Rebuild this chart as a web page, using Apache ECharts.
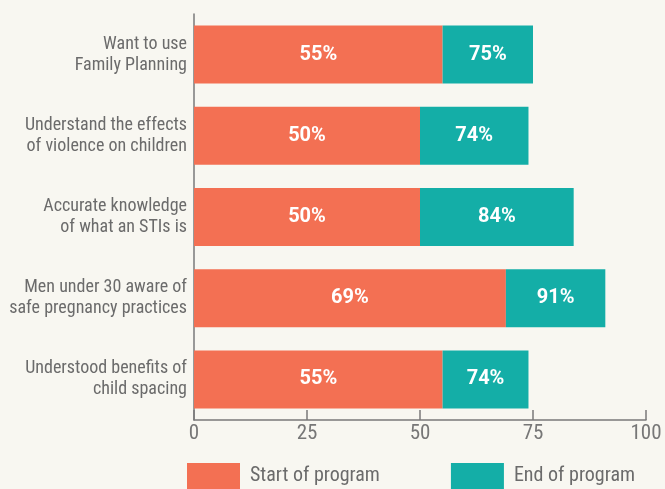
<!DOCTYPE html>
<html>
<head>
<meta charset="utf-8">
<style>
  html, body { margin: 0; padding: 0; background: #f8f7f1; }
  #main { width: 665px; height: 489px; }
</style>
<script src="https://cdn.jsdelivr.net/npm/echarts@6/dist/echarts.min.js"></script>
</head>
<body>
<div id="main"></div>
<script>
var categories = [
    'Want to use\nFamily Planning',
    'Understand the effects\nof violence on children',
    'Accurate knowledge\nof what an STIs is',
    'Men under 30 aware of\nsafe pregnancy practices',
    'Understood benefits of\nchild spacing'
];
var startValues = [55, 50, 50, 69, 55];
var endValues = [75, 74, 84, 91, 74];
var xTicks = [0, 25, 50, 75, 100];

// the end bar is drawn as the gain on top of the start bar
var gainValues = endValues.map(function (v, i) { return v - startValues[i]; });

var labelFont = '"Roboto Condensed", "Liberation Sans Narrow", sans-serif';
var barLabel = {
    show: true,
    position: 'inside',
    color: '#fff',
    fontWeight: 'bold',
    fontSize: 20,
    fontFamily: 'Roboto'
};

var option = {
    backgroundColor: '#f8f7f1',
    animation: false,
    grid: { left: 194, right: 19, top: 14, bottom: 69, containLabel: false, outerBoundsMode: 'none' },
    legend: {
        left: 187,
        top: 463,
        padding: 0,
        itemWidth: 53,
        itemHeight: 26,
        itemGap: 71,
        icon: 'rect',
        textStyle: { color: '#6b6b6b', fontSize: 20, fontFamily: labelFont, padding: [2, 0, 0, 5] },
        data: ['Start of program', 'End of program']
    },
    xAxis: {
        type: 'value',
        min: 0,
        max: 100,
        interval: 25,
        axisLine: { show: true, lineStyle: { color: '#7a7a7a', width: 1.5 } },
        axisTick: { show: true, inside: true, length: 10, lineStyle: { color: '#7a7a7a', width: 1.5 } },
        axisLabel: {
            color: '#777',
            fontSize: 21,
            fontFamily: labelFont,
            margin: 3,
            formatter: function (v) { return xTicks.indexOf(v) >= 0 ? String(v) : ''; }
        },
        splitLine: { show: false }
    },
    yAxis: {
        type: 'category',
        inverse: true,
        data: categories,
        axisLine: { show: true, lineStyle: { color: '#7a7a7a', width: 1.5 } },
        axisTick: { show: false },
        axisLabel: {
            color: '#6b6b6b',
            fontSize: 18,
            lineHeight: 21,
            fontFamily: labelFont,
            margin: 7,
            align: 'right'
        }
    },
    series: [
        {
            name: 'Start of program',
            type: 'bar',
            stack: 'total',
            barWidth: 58,
            itemStyle: { color: '#f37053' },
            label: Object.assign({}, barLabel, {
                formatter: function (p) { return startValues[p.dataIndex] + '%'; }
            }),
            data: startValues
        },
        {
            name: 'End of program',
            type: 'bar',
            stack: 'total',
            barWidth: 58,
            itemStyle: { color: '#14aea7' },
            label: Object.assign({}, barLabel, {
                formatter: function (p) { return endValues[p.dataIndex] + '%'; }
            }),
            data: gainValues
        }
    ]
};

var myChart = echarts.init(document.getElementById('main'));
myChart.setOption(option);
</script>
</body>
</html>
